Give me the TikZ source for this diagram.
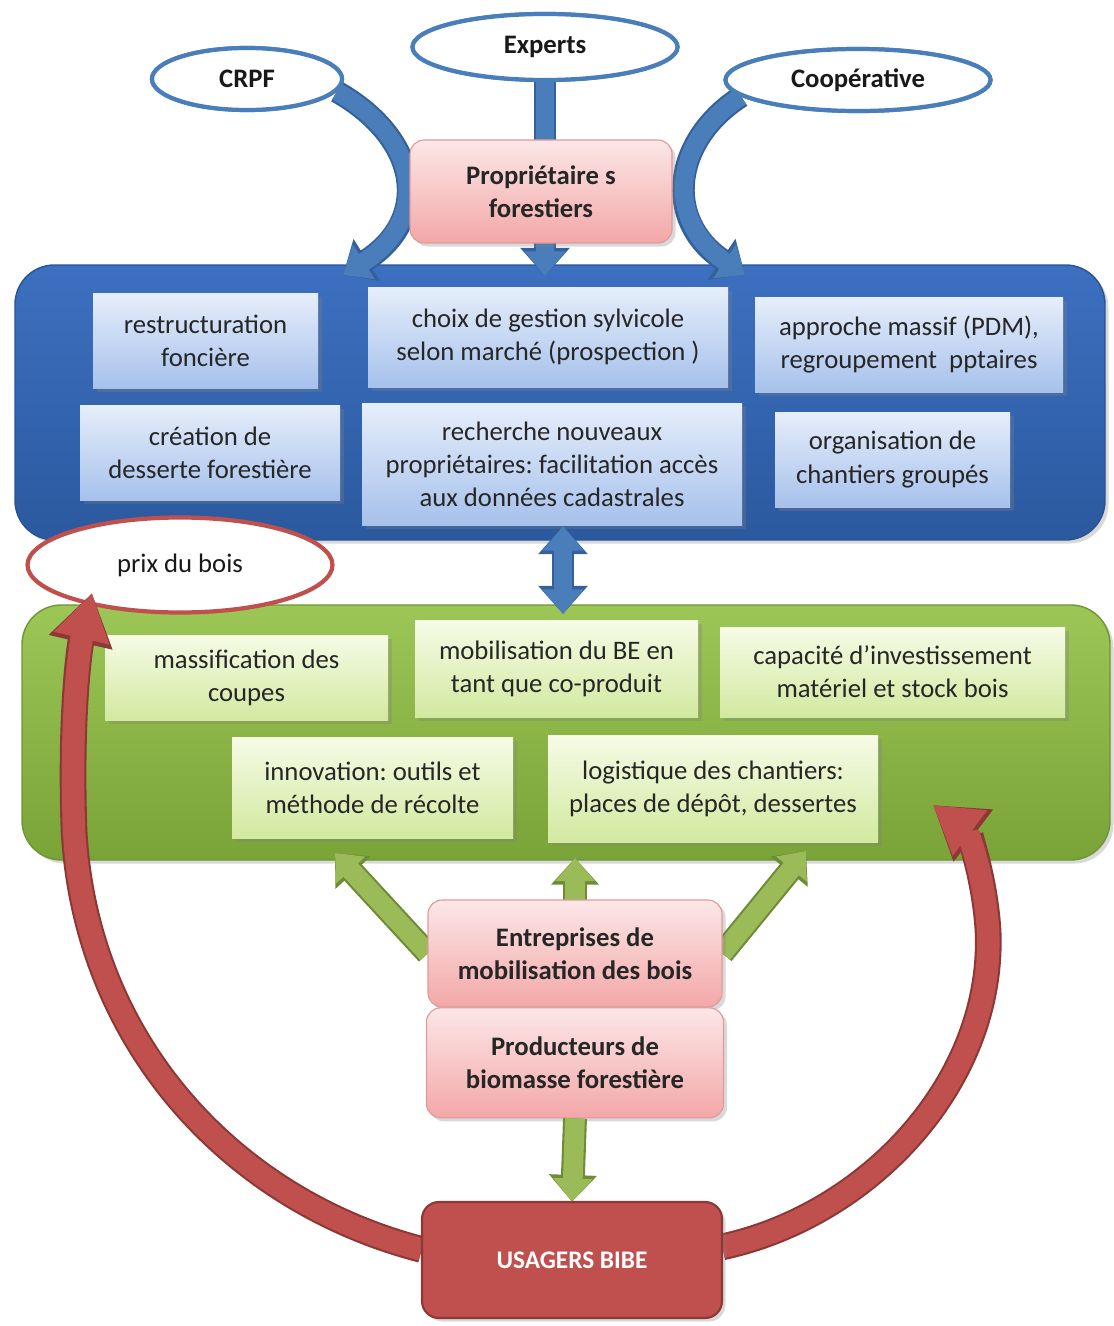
\documentclass[tikz,border=0pt]{standalone}
\usepackage{fontspec}
\setmainfont{Carlito}
\frenchspacing
\usetikzlibrary{positioning,shapes.geometric,arrows.meta,shadows}

\definecolor{bluebg}{HTML}{3C70C0}
\definecolor{bluebgdark}{HTML}{2B599F}
\definecolor{bluebord}{HTML}{2A5392}
\definecolor{bluetop}{HTML}{E6EEFA}
\definecolor{bluebot}{HTML}{A6C1EC}
\definecolor{bluearrow}{HTML}{4A7EBB}
\definecolor{bluearrowdark}{HTML}{34609B}
\definecolor{greenbg}{HTML}{9CC656}
\definecolor{greenbgdark}{HTML}{7AA338}
\definecolor{greenbord}{HTML}{6F9632}
\definecolor{greentop}{HTML}{F6FBE6}
\definecolor{greenbot}{HTML}{D2E9A0}
\definecolor{greenarrow}{HTML}{9BBB59}
\definecolor{greenarrowdark}{HTML}{6E8B37}
\definecolor{pinktop}{HTML}{FCE7E7}
\definecolor{pinkbot}{HTML}{F3A7A7}
\definecolor{pinkbord}{HTML}{E09A9A}
\definecolor{redfill}{HTML}{C0504D}
\definecolor{reddark}{HTML}{8C3836}
\definecolor{ellblue}{HTML}{4A7EBB}

\def\pxu{0.025cm}

\tikzset{
  bx/.style 2 args={rectangle, minimum width=#1*\pxu, minimum height=#2*\pxu,
    inner sep=1pt, align=center, text=black!85},
  softshadow/.style={drop shadow={opacity=0.3, shadow xshift=2.5pt, shadow yshift=-2.5pt}},
  bluepanel/.style={rounded corners=28pt, top color=bluebg, bottom color=bluebgdark,
    draw=bluebord, line width=1pt, softshadow},
  greenpanel/.style={rounded corners=28pt, top color=greenbg, bottom color=greenbgdark,
    draw=greenbord, line width=1pt, softshadow},
  bluebox/.style={top color=bluetop, bottom color=bluebot, softshadow},
  greenbox/.style={top color=greentop, bottom color=greenbot, softshadow},
  pinkbox/.style={rounded corners=10pt, top color=pinktop, bottom color=pinkbot,
    draw=pinkbord, line width=0.8pt, font=\fontsize{19}{23.5}\selectfont\bfseries, softshadow},
  actor/.style 2 args={ellipse, minimum width=#1*\pxu, minimum height=#2*\pxu, inner sep=0pt,
    fill=white, line width=3pt, text=black!90},
  bflow/.style={draw=bluearrowdark, line width=16pt, -{Triangle[width=34pt,length=20pt]},
    postaction={draw=bluearrow, line width=13pt, -{Triangle[width=28pt,length=17.5pt]}}},
  bdouble/.style={draw=bluearrowdark, line width=16pt,
    {Triangle[width=34pt,length=20pt]}-{Triangle[width=34pt,length=20pt]},
    postaction={draw=bluearrow, line width=13pt,
    {Triangle[width=28pt,length=17.5pt]}-{Triangle[width=28pt,length=17.5pt]}}},
  gflow/.style={draw=greenarrowdark, line width=17pt, -{Triangle[width=33pt,length=19pt]},
    postaction={draw=greenarrow, line width=14pt, -{Triangle[width=27pt,length=16.5pt]}}},
  rflow/.style={draw=reddark, line width=19pt, -{Triangle[width=44pt,length=36pt]},
    postaction={draw=redfill, line width=16pt, -{Triangle[width=38pt,length=33pt]}}},
}

\begin{document}
\begin{tikzpicture}[x=0.025cm, y=-0.025cm, font=\fontsize{19}{23.5}\selectfont]
\useasboundingbox (0,0) rectangle (1113,1326);

% blue panel: forest owners side
\node[bluepanel, bx={1090}{275}] (gestion) at (560,402.5) {};
\node[bluebox, bx={225}{95}] (restr) at (205.5,340.5) {restructuration\\foncière};
\node[bluebox, bx={360}{100}] (choix) at (548,337) {choix de gestion sylvicole\\selon marché (prospection )};
\node[bluebox, bx={308}{95}] (massifpdm) at (909,344.5) {approche massif (PDM),\\regroupement\ \ pptaires};
\node[bluebox, bx={260}{95}] (desserte) at (210,452.5) {création de\\desserte forestière};
\node[bluebox, bx={380}{122}] (recherche) at (552,464) {recherche nouveaux\\propriétaires: facilitation accès\\aux données cadastrales};
\node[bluebox, bx={235}{95}] (chantiers) at (892.5,459.5) {organisation de\\chantiers groupés};

% advisers towards the owners
\node[actor={190}{62}, draw=ellblue] (crpf) at (247,79) {\bfseries CRPF};
\node[actor={265}{66}, draw=ellblue] (experts) at (545,47) {\bfseries Experts};
\node[actor={265}{62}, draw=ellblue] (coop) at (858,80) {\bfseries Coopérative};
\coordinate (crpftip) at (343,275);
\coordinate (experttip) at (545,276);
\coordinate (cooptip) at (745,275);
\draw[bflow] (crpf.-8) .. controls (422,140) and (430,220) .. (crpftip);
\draw[bflow] (experts.south) -- (experttip);
\draw[bflow] (coop.-172) .. controls (673,140) and (663,220) .. (cooptip);
\node[actor={190}{62}, draw=ellblue] at (crpf) {\bfseries CRPF};
\node[actor={265}{66}, draw=ellblue] at (experts) {\bfseries Experts};
\node[actor={265}{62}, draw=ellblue] at (coop) {\bfseries Coopérative};
\node[pinkbox, bx={262}{103}] (proprio) at (541,191.5) {Propriétaire s\\forestiers};

% green panel: harvesting side
\node[greenpanel, bx={1088}{255}] (mobpanel) at (566,732.5) {};
\node[greenbox, bx={283}{85}] (coupes) at (246.5,677.5) {massification des\\coupes};
\node[greenbox, bx={283}{97}] (coproduit) at (556.5,668.5) {mobilisation du BE en\\tant que co-produit};
\node[greenbox, bx={345}{90}] (invest) at (892.5,672) {capacité d'investissement\\matériel et stock bois};
\node[greenbox, bx={281}{101}] (innov) at (372.5,787.5) {innovation: outils et\\méthode de récolte};
\node[greenbox, bx={330}{107}] (logist) at (713,788.5) {logistique des chantiers:\\places de dépôt, dessertes};

\coordinate (lktop) at (563,526);
\coordinate (lkbot) at (563,614);
\draw[bdouble] (lktop) -- (lkbot);

\node[actor={305}{95}, draw=redfill] (prix) at (180,565) {prix du bois};

% firms and producers
\coordinate (gtipl) at (335,853);
\coordinate (gtipm) at (575,858);
\coordinate (gtipr) at (806,851);
\node[bx={294}{107}] (entr) at (575,953.5) {};
\draw[gflow] (entr.west) -- (gtipl);
\draw[gflow] (entr.north) -- (gtipm);
\draw[gflow] (entr.east) -- (gtipr);
\node[pinkbox, bx={294}{107}] at (entr) {Entreprises de\\mobilisation des bois};
\node[pinkbox, bx={297}{110}, below=0pt of entr] (prod) {Producteurs de\\biomasse forestière};

\node[bx={300}{116}] (usagers) at (572,1260) {};
\draw[gflow] (prod.south) -- (usagers.north);

% feedback of the end users
\coordinate (prixtip) at (92,593);
\coordinate (logtip) at (933,805);
\draw[rflow] (usagers.176) .. controls (230,1200) and (85,1040) .. (74,830)
  .. controls (70,710) and (80,645) .. (prixtip);
\draw[rflow] (usagers.5) .. controls (870,1215) and (995,1080) .. (988,930)
  .. controls (984,870) and (966,830) .. (logtip);
\node[bx={300}{116}, rounded corners=12pt, fill=redfill, draw=reddark, line width=1.5pt,
  text=white, font=\fontsize{18}{23}\selectfont\bfseries, softshadow] at (usagers) {USAGERS BIBE};
\end{tikzpicture}
\end{document}
